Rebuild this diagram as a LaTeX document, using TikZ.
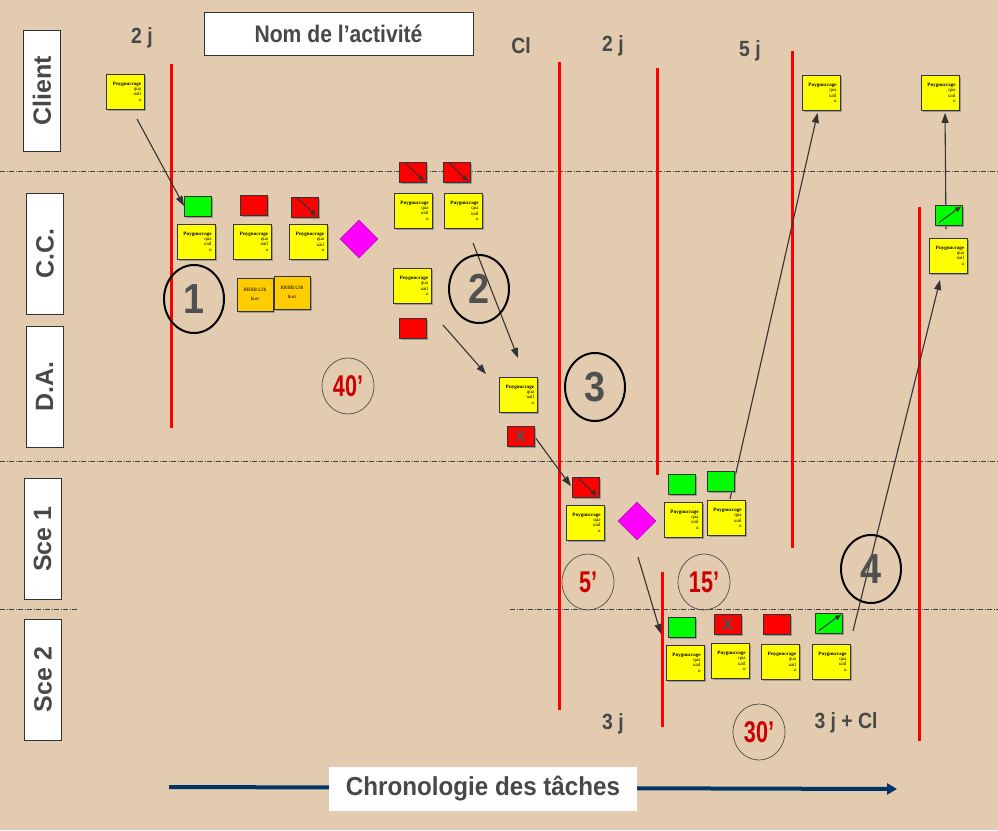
\documentclass[tikz,border=0pt]{standalone}
\usepackage{fontspec}
\setmainfont{Liberation Sans}
\newfontfamily\notefont{Liberation Serif}
\usepackage{graphicx}
\usetikzlibrary{arrows.meta,shapes.geometric,shadows}

\definecolor{paper}{RGB}{227,203,176}
\definecolor{labgray}{RGB}{72,72,72}
\definecolor{numgray}{RGB}{80,80,80}
\definecolor{timered}{RGB}{204,0,0}
\definecolor{boxgreen}{RGB}{0,255,0}
\definecolor{boxred}{RGB}{255,0,0}
\definecolor{boxyellow}{RGB}{255,255,0}
\definecolor{boxorange}{RGB}{255,204,0}
\definecolor{decision}{RGB}{255,0,255}
\definecolor{navy}{RGB}{0,51,102}

\pgfdeclarelayer{back}
\pgfdeclarelayer{bg}
\pgfsetlayers{back,bg,main}

% a yellow task note
\newcommand\sticky[3]{\node[stickybox] (#1) at (#2,#3) {\textbf{Pnygnucrage}\\qua\\uail\\u};}
\newcommand\narrow[1]{\scalebox{0.88}[1]{#1}}

\begin{document}
\begin{tikzpicture}[x=1pt,y=-1pt,
  shade/.style={drop shadow={shadow xshift=1.5pt,shadow yshift=-1.5pt,fill=black!45,opacity=0.8}},
  stickybox/.style={draw=black!80,line width=0.9pt,fill=boxyellow,minimum width=38pt,
    minimum height=35pt,inner sep=0pt,text width=31pt,align=right,
    font=\notefont\fontsize{5}{5.3}\selectfont,shade},
  smallbox/.style={draw=black!80,line width=1pt,minimum width=27pt,minimum height=20pt,
    inner sep=0pt,shade},
  greenbox/.style={smallbox,fill=boxgreen},
  redbox/.style={smallbox,fill=boxred},
  xbox/.style={smallbox,fill=boxred,text=black!68,font=\bfseries\fontsize{17}{17}\selectfont},
  orbox/.style={draw=black!80,line width=1pt,fill=boxorange,minimum width=36pt,
    minimum height=33pt,inner sep=0pt,align=center,
    font=\notefont\fontsize{5}{9}\selectfont,shade},
  diam/.style={diamond,fill=decision,draw=decision!60!black,line width=0.4pt,
    minimum width=38pt,minimum height=38pt,inner sep=0pt},
  bignum/.style={ellipse,draw=black,line width=2pt,minimum width=60pt,minimum height=68pt,
    inner sep=0pt,text=numgray,font=\bfseries\fontsize{42}{42}\selectfont},
  timecirc/.style={ellipse,draw=black!70,line width=0.7pt,minimum width=52pt,
    minimum height=56pt,inner sep=0pt,text=timered,font=\bfseries\fontsize{30}{30}\selectfont},
  lane/.style={draw=black!80,line width=1pt,fill=white,rotate=90,minimum width=121pt,
    minimum height=37pt,inner sep=0pt,text=labgray,font=\bfseries\fontsize{25}{25}\selectfont},
  timelabel/.style={text=labgray,inner sep=0pt,font=\bfseries\fontsize{22}{22}\selectfont},
  redline/.style={draw=boxred,line width=3pt},
  sepline/.style={draw=black!75,line width=0.8pt,dash pattern=on 5pt off 1.5pt on 1pt off 1.5pt},
  flow/.style={draw=black!80,line width=1.1pt,-{Triangle[length=10pt,width=7pt]}},
  innerflow/.style={draw=black!80,line width=1pt,-{Triangle[length=6pt,width=5pt]}}
]
\begin{pgfonlayer}{back}
  \fill[paper] (0,0) rectangle (998,830);
\end{pgfonlayer}
\path[use as bounding box] (0,0) rectangle (998,830);

% lane separators and milestone bars
\begin{pgfonlayer}{bg}
  \draw[sepline] (0,171) -- (998,171);
  \draw[sepline] (0,461) -- (998,461);
  \draw[sepline] (0,609) -- (78,609);
  \draw[sepline] (510,609) -- (998,609);
  \draw[redline] (171,64) -- (171,428);
  \draw[redline] (559,62) -- (559,710);
  \draw[redline] (657,68) -- (657,475);
  \draw[redline] (792,51) -- (792,548);
  \draw[redline] (919,207) -- (919,741);
  \draw[redline] (662,572) -- (662,727);
\end{pgfonlayer}

% lane labels
\node[lane] (lClient) at (42,91) {Client};
\node[lane] (lCC) at (45,253.5) {C.C.};
\node[lane] (lDA) at (44.5,386.5) {D.A.};
\node[lane] (lS1) at (42.5,539) {Sce 1};
\node[lane] (lS2) at (43,679.5) {Sce 2};

% title
\node[draw=black!80,line width=1pt,fill=white,minimum width=269pt,minimum height=43pt,
  inner sep=0pt,text=labgray,font=\bfseries\fontsize{24}{24}\selectfont]
  (title) at (338.5,33.5) {\narrow{Nom de l’activité}};

% durations
\node[timelabel] (d1) at (142,38) {\narrow{2 j}};
\node[timelabel] (d2) at (521,46) {\narrow{Cl}};
\node[timelabel] (d3) at (613,46) {\narrow{2 j}};
\node[timelabel] (d4) at (750,51) {\narrow{5 j}};
\node[timelabel] (d5) at (613,724) {\narrow{3 j}};
\node[timelabel] (d6) at (846,723) {\narrow{3 j + Cl}};

% notes
\sticky{n0}{125.5}{91.5}
\sticky{n1}{196}{241.5}
\sticky{n2}{252.5}{241.5}
\sticky{n3}{308.5}{242}
\sticky{n4}{413}{210.5}
\sticky{n5}{463}{211}
\sticky{n6}{412.5}{286}
\sticky{n7}{518.5}{394.5}
\sticky{n8}{585}{522.5}
\sticky{n9}{683}{519.5}
\sticky{n10}{726}{518}
\sticky{n11}{685}{662.5}
\sticky{n12}{730}{661}
\sticky{n13}{780.5}{662}
\sticky{n14}{831}{661.5}
\sticky{n15}{948.5}{255.5}
\sticky{n16}{821}{93}
\sticky{n17}{940}{93}

% status boxes
\node[greenbox] (g1) at (198,206) {};
\node[redbox] (r1) at (253.5,205.5) {};
\node[redbox] (r2) at (305,207) {};
\node[redbox] (r3) at (413,172.5) {};
\node[redbox] (r4) at (457,172.5) {};
\node[redbox] (r5) at (412.5,328) {};
\node[xbox] (x1) at (520.5,436.5) {X};
\node[redbox] (r6) at (585.5,487) {};
\node[greenbox] (g2) at (681.5,484) {};
\node[greenbox] (g3) at (720.5,481.5) {};
\node[greenbox] (g4) at (682,627) {};
\node[xbox] (x2) at (727.5,624.5) {X};
\node[redbox] (r7) at (777,624.5) {};
\node[greenbox] (g5) at (829,623) {};
\node[greenbox] (g6) at (949,215) {};

% documents
\node[orbox] (o1) at (255,294.5) {RRBB:UJb\\hurr};
\node[orbox] (o2) at (292,292.5) {RRBB:UJb\\hurr};

% decisions
\node[diam] (dm1) at (359,239) {};
\node[diam] (dm2) at (637,521) {};

% phase numbers
\node[bignum] (c1) at (194,299) {\scalebox{0.9}[1]{1}};
\node[bignum] (c2) at (479,289) {\scalebox{0.9}[1]{2}};
\node[bignum] (c3) at (595,387) {\scalebox{0.9}[1]{3}};
\node[bignum] (c4) at (871,569) {\scalebox{0.9}[1]{4}};

% elapsed times
\node[timecirc] (t1) at (348,386) {\scalebox{0.72}[1]{40’}};
\node[timecirc] (t2) at (588,582) {\scalebox{0.72}[1]{5’}};
\node[timecirc] (t3) at (704,582) {\scalebox{0.72}[1]{15’}};
\node[timecirc] (t4) at (759,732) {\scalebox{0.72}[1]{30’}};

% timeline
\coordinate (cs) at (169,787);
\coordinate (ce) at (897,789);
\node[fill=white,minimum width=308pt,minimum height=44pt,inner sep=0pt,text=labgray,
  font=\bfseries\fontsize{26}{26}\selectfont] (chrono) at (483,789)
  {\scalebox{0.93}[1]{Chronologie des tâches}};

% flows between tasks
\coordinate (s1) at (137,119);
\coordinate (s2) at (473,243);
\coordinate (e2) at (518,358);
\coordinate (s3) at (443,325);
\coordinate (e3) at (486,374);
\coordinate (s5) at (730,499);
\coordinate (s6) at (638,557);
\coordinate (e6) at (661,634);
\coordinate (s7) at (853,631);
\coordinate (e7) at (940,280);
\coordinate (s8) at (946,229);
\begin{pgfonlayer}{bg}
  \draw[navy,line width=4pt,-{Triangle[length=10pt,width=11pt]}] (cs) -- (ce);
  \draw[flow] (s1) -- (g1.west);
  \draw[flow] (s2) -- (e2);
  \draw[flow] (s3) -- (e3);
  \draw[flow,shorten >=1pt] (x1.east) -- (r6.west);
  \draw[flow,shorten >=2pt] (s5) -- ([xshift=-3pt]n16.south);
  \draw[flow] (s6) -- (e6);
  \draw[flow] (s7) -- (e7);
  \draw[flow,shorten >=2pt] (s8) -- ([xshift=5pt]n17.south);
\end{pgfonlayer}

% arrows drawn on the status boxes
\foreach \b in {r2,r3,r4,r6}
  \draw[innerflow] ([xshift=6pt,yshift=-1pt]\b.north west) -- ([xshift=-3pt,yshift=2pt]\b.south east);
\foreach \b in {g5,g6}
  \draw[innerflow] ([xshift=4pt,yshift=3pt]\b.south west) -- ([xshift=-2pt,yshift=-2pt]\b.north east);
\end{tikzpicture}
\end{document}
